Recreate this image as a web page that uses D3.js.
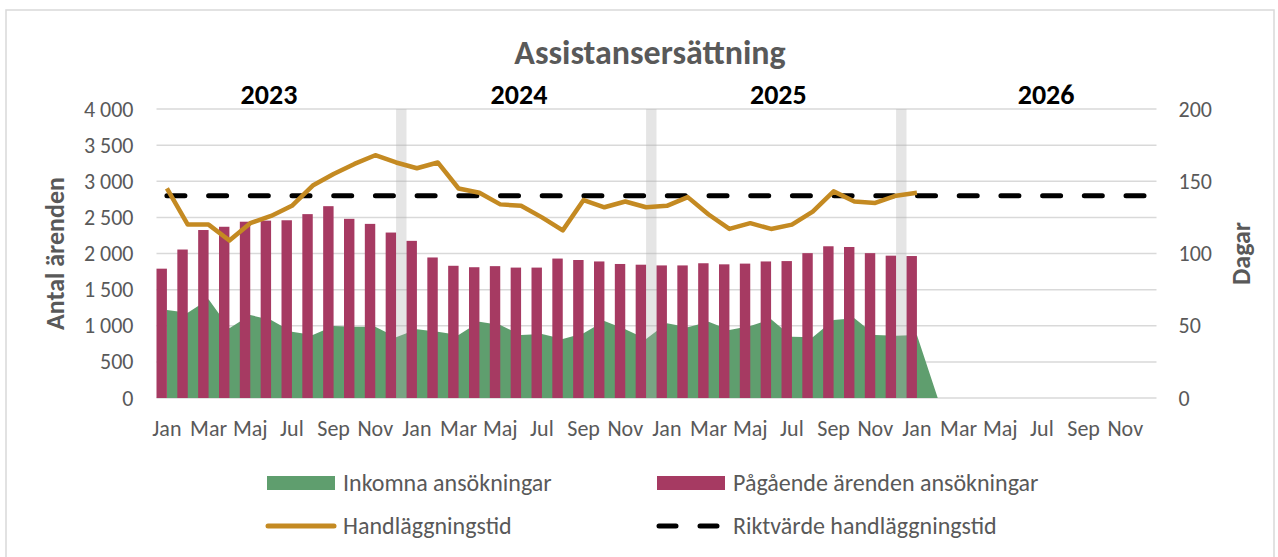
<!DOCTYPE html>
<html>
<head>
<meta charset="utf-8">
<script src="https://cdn.jsdelivr.net/npm/d3@7"></script>
<style>
  body { margin: 0; background: #fff; }
  svg text { font-family: Carlito, Calibri, Lato, "Open Sans", sans-serif; }
</style>
</head>
<body>
<div id="chart"></div>
<script>
// data
const years = [2023, 2024, 2025, 2026];
const monthNames = ["Jan", "Feb", "Mar", "Apr", "Maj", "Jun", "Jul", "Aug", "Sep", "Okt", "Nov", "Dec"];

// Pågående ärenden ansökningar (Jan 2023 - Jan 2026)
const pagaende = [1790, 2055, 2325, 2370, 2440, 2455, 2460, 2545, 2655, 2480, 2410, 2290,
                  2175, 1945, 1830, 1810, 1825, 1805, 1805, 1930, 1910, 1890, 1855, 1845,
                  1835, 1835, 1865, 1850, 1860, 1890, 1895, 2005, 2100, 2090, 2005, 1970,
                  1965];

// Inkomna ansökningar
const inkomna = [1218, 1180, 1366, 964, 1149, 1080, 918, 872, 997, 987, 987, 840,
                 951, 918, 872, 1056, 1010, 872, 886, 817, 895, 1066, 951, 817,
                 1035, 978, 1056, 941, 997, 1089, 849, 840, 1080, 1103, 872, 863,
                 872, 0];

// Handläggningstid (dagar)
const handlaggning = [145, 120, 120, 109, 121, 126, 133, 147, 155, 162, 168, 163,
                      159, 163, 145, 142, 134, 133, 125, 116, 137, 132, 136, 132,
                      133, 139, 127, 117, 121, 117, 120, 129, 143, 136, 135, 140,
                      142];

const riktvarde = 140;

// year separators sit in December of each year
const separatorMonths = ["Dec 2023", "Dec 2024", "Dec 2025"];
const separatorValue = 4000;

const leftTicks = [0, 500, 1000, 1500, 2000, 2500, 3000, 3500, 4000];
const rightTicks = [0, 50, 100, 150, 200];

// categories
const categories = [];
years.forEach(y => monthNames.forEach(m => categories.push(m + " " + y)));

// dimensions
const width = 1278, height = 557;
const margin = {top: 109, right: 121.5, bottom: 159, left: 156.5};

const svg = d3.select("#chart")
  .append("svg")
    .attr("width", width)
    .attr("height", height);

// chart border
svg.append("rect")
  .attr("x", 6).attr("y", 10)
  .attr("width", 1268).attr("height", 560)
  .attr("fill", "none")
  .attr("stroke", "#d9d9d9")
  .attr("stroke-width", 1.5);

const x = d3.scaleBand()
  .domain(categories)
  .range([margin.left, width - margin.right])
  .paddingInner(0).paddingOuter(0);
const bw = x.bandwidth();
const cx = i => x(categories[i]) + bw / 2;

const y = d3.scaleLinear().domain([0, 4000]).range([height - margin.bottom, margin.top]);
const y2 = d3.scaleLinear().domain([0, 200]).range([height - margin.bottom, margin.top]);

const fmt = d3.formatLocale({decimal: ",", thousands: " ", grouping: [3], currency: ["", ""]}).format(",");

// gridlines
svg.append("g")
  .selectAll("line")
  .data(leftTicks)
  .enter()
  .append("line")
    .attr("x1", margin.left).attr("x2", width - margin.right)
    .attr("y1", d => y(d)).attr("y2", d => y(d))
    .attr("stroke", "#d9d9d9")
    .attr("stroke-width", 1.5);

// left axis
const yAxis = svg.append("g")
  .attr("transform", `translate(${margin.left},0)`)
  .call(d3.axisLeft(y).tickValues(leftTicks).tickFormat(fmt).tickSize(0).tickPadding(23));
yAxis.select(".domain").remove();
yAxis.selectAll("text").attr("fill", "#595959").style("font-size", "22px");

// right axis
const y2Axis = svg.append("g")
  .attr("transform", `translate(${width - margin.right},0)`)
  .call(d3.axisRight(y2).tickValues(rightTicks).tickSize(0).tickPadding(22));
y2Axis.select(".domain").remove();
y2Axis.selectAll("text").attr("fill", "#595959").style("font-size", "22px");

// x axis labels
const xAxis = svg.append("g")
  .attr("transform", `translate(0,${height - margin.bottom})`)
  .call(d3.axisBottom(x)
    .tickValues(categories.filter((c, i) => i % 2 === 0))
    .tickFormat(d => d.split(" ")[0])
    .tickSize(0).tickPadding(22));
xAxis.select(".domain").remove();
xAxis.selectAll("text").attr("fill", "#595959").style("font-size", "22px");

// area: Inkomna ansökningar
const area = d3.area()
  .x((d, i) => cx(i))
  .y0(y(0))
  .y1(d => y(d));
svg.append("path")
  .datum(inkomna)
  .attr("d", area)
  .attr("fill", "#5f9e6e");

// bars: Pågående ärenden
svg.append("g")
  .selectAll("rect")
  .data(pagaende)
  .enter()
  .append("rect")
    .attr("x", (d, i) => x(categories[i]))
    .attr("y", d => y(d))
    .attr("width", bw / 2)
    .attr("height", d => y(0) - y(d))
    .attr("fill", "#a63a62");

// year separators
svg.append("g")
  .selectAll("rect")
  .data(separatorMonths)
  .enter()
  .append("rect")
    .attr("x", d => x(d) + bw / 2)
    .attr("y", y(separatorValue))
    .attr("width", bw / 2)
    .attr("height", y(0) - y(separatorValue))
    .attr("fill", "#b0b0b0")
    .attr("fill-opacity", 0.33);

// target line
svg.append("line")
  .attr("x1", cx(0)).attr("x2", cx(categories.length - 1))
  .attr("y1", y2(riktvarde)).attr("y2", y2(riktvarde))
  .attr("stroke", "#000")
  .attr("stroke-width", 5)
  .attr("stroke-linecap", "round")
  .attr("stroke-dasharray", "18 23.7");

// Handläggningstid line
const line = d3.line()
  .x((d, i) => cx(i))
  .y(d => y2(d));
svg.append("path")
  .datum(handlaggning)
  .attr("d", line)
  .attr("fill", "none")
  .attr("stroke", "#c48a22")
  .attr("stroke-width", 4.5)
  .attr("stroke-linejoin", "round");

// title
svg.append("text")
  .attr("x", 650).attr("y", 64)
  .attr("text-anchor", "middle")
  .attr("fill", "#595959")
  .style("font-size", "34px").style("font-weight", "bold")
  .text("Assistansersättning");

// year labels (position in category units from the left edge)
const yearLabelAt = [5.4, 17.4, 29.85, 42.7];
svg.append("g")
  .selectAll("text")
  .data(years)
  .enter()
  .append("text")
    .attr("x", (d, i) => margin.left + yearLabelAt[i] * bw)
    .attr("y", 104)
    .attr("text-anchor", "middle")
    .attr("fill", "#000")
    .style("font-size", "28px").style("font-weight", "bold")
    .text(d => d);

// axis titles
svg.append("text")
  .attr("transform", `translate(64,${(y(0) + y(4000)) / 2}) rotate(-90)`)
  .attr("text-anchor", "middle")
  .attr("fill", "#595959")
  .style("font-size", "26px").style("font-weight", "bold")
  .text("Antal ärenden");
svg.append("text")
  .attr("transform", `translate(1250,${(y(0) + y(4000)) / 2}) rotate(-90)`)
  .attr("text-anchor", "middle")
  .attr("fill", "#595959")
  .style("font-size", "26px").style("font-weight", "bold")
  .text("Dagar");

// legend
const legend = svg.append("g");
const legendItems = [
  {label: "Inkomna ansökningar", type: "rect", color: "#5f9e6e", x: 267, y: 483},
  {label: "Pågående ärenden ansökningar", type: "rect", color: "#a63a62", x: 657, y: 483},
  {label: "Handläggningstid", type: "line", color: "#c48a22", x: 267, y: 526},
  {label: "Riktvärde handläggningstid", type: "dash", color: "#000", x: 657, y: 526}
];
legendItems.forEach(d => {
  if (d.type === "rect") {
    legend.append("rect")
      .attr("x", d.x).attr("y", d.y - 7)
      .attr("width", 68).attr("height", 14)
      .attr("fill", d.color);
  } else if (d.type === "line") {
    legend.append("line")
      .attr("x1", d.x + 1).attr("x2", d.x + 67)
      .attr("y1", d.y).attr("y2", d.y)
      .attr("stroke", d.color).attr("stroke-width", 5)
      .attr("stroke-linecap", "round");
  } else {
    legend.append("line")
      .attr("x1", d.x + 2).attr("x2", d.x + 67)
      .attr("y1", d.y).attr("y2", d.y)
      .attr("stroke", d.color).attr("stroke-width", 5)
      .attr("stroke-linecap", "round")
      .attr("stroke-dasharray", "17 24");
  }
  legend.append("text")
    .attr("x", d.x + 76).attr("y", d.y)
    .attr("dy", "0.35em")
    .attr("fill", "#595959")
    .style("font-size", "24px")
    .text(d.label);
});
</script>
</body>
</html>
